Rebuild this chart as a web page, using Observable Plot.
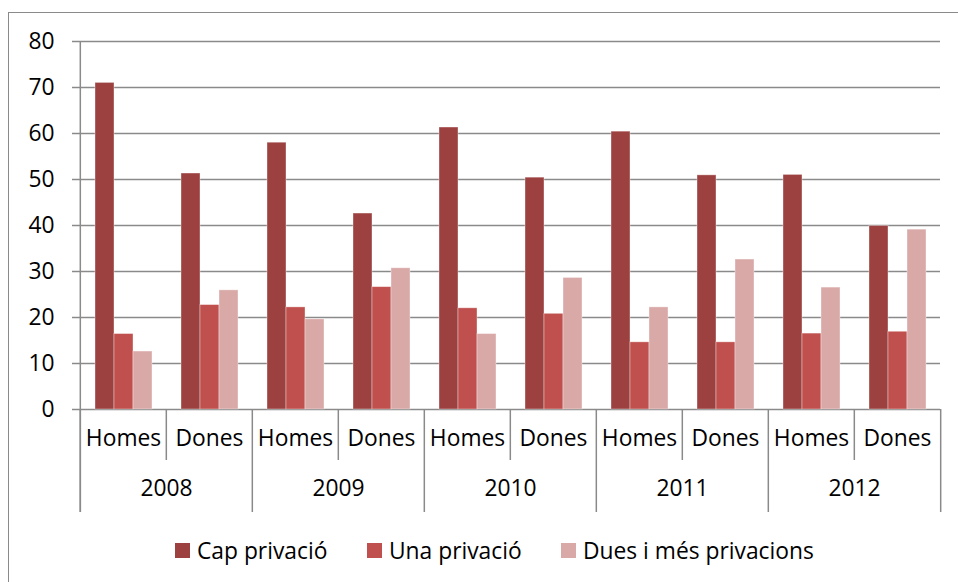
<!DOCTYPE html>
<html>
<head>
<meta charset="utf-8">
<script src="https://cdn.jsdelivr.net/npm/d3@7"></script>
<script src="https://cdn.jsdelivr.net/npm/@observablehq/plot@0.6"></script>
<style>
  html, body { margin: 0; padding: 0; background: #fff; overflow: hidden; width: 958px; height: 582px; }
  #border { position: absolute; left: 8px; top: 12px; width: 1000px; height: 700px; border: 1.5px solid #8a8a8a; box-sizing: border-box; }
  #chart { position: absolute; left: 0; top: 0; }
  #legend { position: absolute; left: 0; top: 537px; width: 958px; height: 26px; font-family: "Open Sans", Lato, sans-serif; font-size: 22.8px; color: #000; }
  .item { position: absolute; top: 0; height: 26px; display: flex; align-items: center; white-space: nowrap; }
  .sw { width: 15px; height: 15px; margin-right: 7px; display: inline-block; }
</style>
</head>
<body>
<div id="border"></div>
<div id="chart"></div>
<div id="legend"></div>
<script>
const years = ["2008", "2009", "2010", "2011", "2012"];
const sexes = ["Homes", "Dones"];
const series = ["Cap privació", "Una privació", "Dues i més privacions"];
const capPrivacio    = [71.0, 51.3, 58.0, 42.6, 61.3, 50.4, 60.4, 50.9, 51.0, 39.9];
const unaPrivacio    = [16.4, 22.7, 22.2, 26.6, 22.0, 20.8, 14.6, 14.6, 16.5, 16.9];
const duesPrivacions = [12.6, 25.9, 19.6, 30.7, 16.4, 28.6, 22.2, 32.6, 26.5, 39.1];
const yTicks = [0, 10, 20, 30, 40, 50, 60, 70, 80];
const colors = ["#9c413f", "#c0504d", "#d9a9a8"];

const cats = years.flatMap(y => sexes.map(s => ({key: y + " " + s, year: y, sex: s})));
const valuesBySeries = [capPrivacio, unaPrivacio, duesPrivacions];
const rows = cats.flatMap((c, i) => series.map((s, j) => ({...c, series: s, value: valuesBySeries[j][i]})));

const W = 958, H = 530, mL = 78, mR = 16.3, mT = 41, mB = 121;
const plotH = H - mT - mB;
const fw = (W - mL - mR) / cats.length;
const grey = "#8a8a8a";
const font = "'Open Sans', Lato, sans-serif";
const fs = 22.8;

const chart = Plot.plot({
  width: W, height: H,
  marginLeft: mL, marginRight: mR, marginTop: mT, marginBottom: mB,
  style: {fontFamily: font, fontSize: fs + "px", color: "#000", background: "transparent"},
  fx: {domain: cats.map(c => c.key), padding: 0, axis: null, label: null},
  x: {domain: series, paddingInner: 0, paddingOuter: 0.75, axis: null},
  y: {domain: [0, 80], axis: null},
  color: {domain: series, range: colors},
  marks: [
    Plot.ruleY(yTicks, {y: d => d, stroke: grey, strokeWidth: 1.5}),
    Plot.axisY({ticks: yTicks, tickSize: 8, tickPadding: 18, stroke: grey, strokeWidth: 1.5, fill: "#000", fontSize: fs, label: null, tickFormat: d => String(d)}),
    Plot.barY(rows, {fx: "key", x: "series", y: "value", fill: "series", stroke: "#fff", strokeOpacity: 0.45, strokeWidth: 0.8}),
    Plot.ruleX([cats[0]], {fx: "key", x: null, dx: -fw / 2, insetBottom: -103, stroke: grey, strokeWidth: 1.5}),
    Plot.ruleX(cats.filter(c => c.sex === "Homes"), {fx: "key", x: null, dx: -fw / 2, insetTop: plotH, insetBottom: -103, stroke: grey, strokeWidth: 1.5}),
    Plot.ruleX(cats.filter(c => c.sex === "Dones"), {fx: "key", x: null, dx: -fw / 2, insetTop: plotH, insetBottom: -51, stroke: grey, strokeWidth: 1.5}),
    Plot.ruleX([cats[cats.length - 1]], {fx: "key", x: null, dx: fw / 2, insetTop: plotH, insetBottom: -103, stroke: grey, strokeWidth: 1.5}),
    Plot.text(cats, {fx: "key", text: "sex", frameAnchor: "bottom", dy: 36, fontSize: fs, fill: "#000"}),
    Plot.text(cats.filter(c => c.sex === "Homes"), {fx: "key", text: "year", frameAnchor: "bottom-right", textAnchor: "middle", dy: 86, fontSize: fs, fill: "#000"})
  ]
});
document.getElementById("chart").appendChild(chart);

const legend = document.getElementById("legend");
const legendLeft = [175, 367, 561];
series.forEach((s, i) => {
  const item = document.createElement("div");
  item.className = "item";
  item.style.left = legendLeft[i] + "px";
  const sw = document.createElement("span");
  sw.className = "sw";
  sw.style.background = colors[i];
  item.appendChild(sw);
  item.appendChild(document.createTextNode(s));
  legend.appendChild(item);
});
</script>
</body>
</html>
